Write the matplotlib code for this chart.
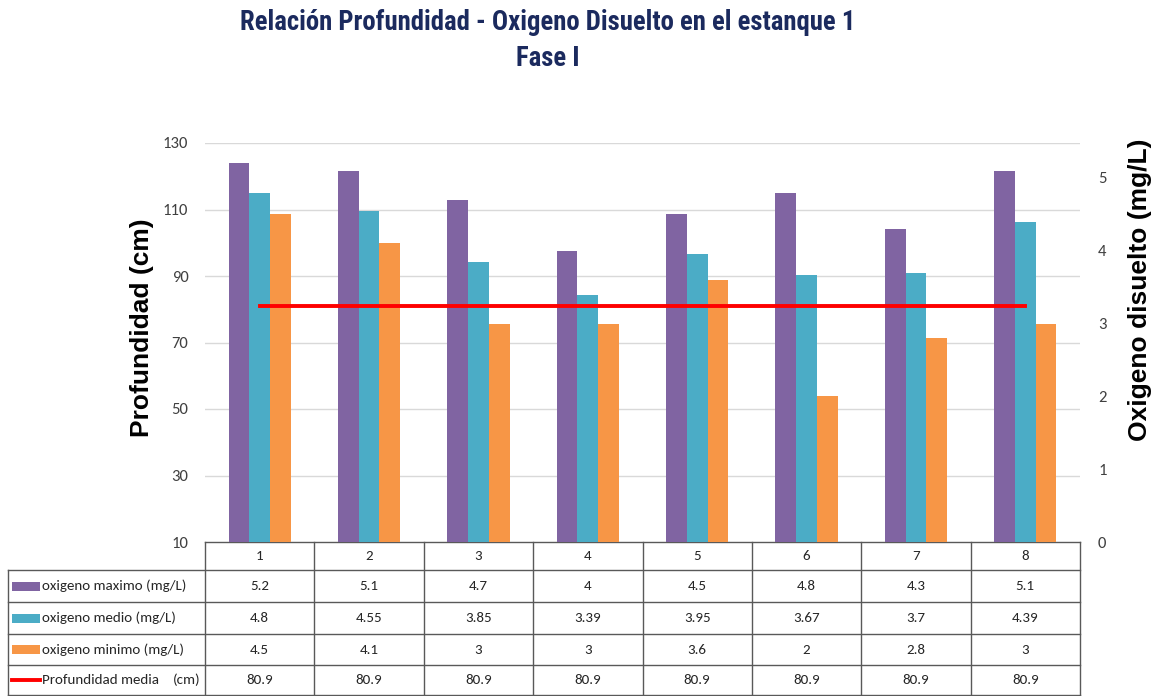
import matplotlib
matplotlib.use("Agg")
import matplotlib.pyplot as plt
from matplotlib.patches import Rectangle
from matplotlib import font_manager

# ---- data ----
categories = ["1", "2", "3", "4", "5", "6", "7", "8"]
oxigeno_maximo = [5.2, 5.1, 4.7, 4.0, 4.5, 4.8, 4.3, 5.1]
oxigeno_medio = [4.8, 4.55, 3.85, 3.39, 3.95, 3.67, 3.7, 4.39]
oxigeno_minimo = [4.5, 4.1, 3.0, 3.0, 3.6, 2.0, 2.8, 3.0]
profundidad_media = [80.9, 80.9, 80.9, 80.9, 80.9, 80.9, 80.9, 80.9]

row_labels = ["oxigeno maximo (mg/L)", "oxigeno medio (mg/L)",
              "oxigeno minimo (mg/L)", "Profundidad media"]
left_ticks = [10, 30, 50, 70, 90, 110, 130]
right_ticks = [0, 1, 2, 3, 4, 5]

# ---- fonts ----
available = {f.name for f in font_manager.fontManager.ttflist}

def pick(cands):
    found = [c for c in cands if c in available]
    return found + ["DejaVu Sans"]

BODY = pick(["Carlito", "Roboto Condensed", "Archivo Narrow", "Liberation Sans Narrow",
             "Asap Condensed", "Liberation Sans"])[:2]
TITLE = pick(["Liberation Sans Narrow", "Roboto Condensed", "Archivo Narrow",
              "Asap Condensed", "Liberation Sans"])[:2]
LABEL = pick(["Liberation Sans", "DejaVu Sans"])[:2]

# ---- colours ----
C_MAX = "#8064A2"
C_MED = "#4BACC6"
C_MIN = "#F79646"
C_RED = "#FF0000"
NAVY = "#1B2A5E"
TXT = "#262626"
W, H = 1163, 696

fig = plt.figure(figsize=(W / 100, H / 100), dpi=100)

# plot area in pixels
PX_L, PX_R, PX_T, PX_B = 205, 1080, 143, 542
ax = fig.add_axes([PX_L / W, 1 - PX_B / H, (PX_R - PX_L) / W, (PX_B - PX_T) / H])
ax2 = ax.twinx()

n = len(categories)
xs = list(range(n))
bw = 0.19

ax.set_xlim(-0.5, n - 0.5)
ax.set_ylim(10, 130)
ax.set_yticks(left_ticks)
ax.set_yticklabels([str(t) for t in left_ticks], family=BODY, fontsize=12, color="#404040")
ax.set_xticks([])
ax.tick_params(axis="y", length=0, pad=12)
for s in ax.spines.values():
    s.set_visible(False)

ax2.set_ylim(0, 5.48)
ax2.set_yticks(right_ticks)
ax2.set_yticklabels([str(t) for t in right_ticks], family=BODY, fontsize=12, color="#404040")
ax2.tick_params(axis="y", length=0, pad=13)
for s in ax2.spines.values():
    s.set_visible(False)

# horizontal gridlines follow the depth axis ticks
for t in left_ticks:
    ax2.axhline((t - 10) / 120 * 5.48, color="#D9D9D9", lw=1, zorder=0)

ax2.bar([x - bw for x in xs], oxigeno_maximo, bw, color=C_MAX, zorder=2)
ax2.bar(xs, oxigeno_medio, bw, color=C_MED, zorder=2)
ax2.bar([x + bw for x in xs], oxigeno_minimo, bw, color=C_MIN, zorder=2)

# depth line drawn above the bars
ax2.set_zorder(1)
ax.set_zorder(2)
ax.patch.set_visible(False)
ax.plot(xs, profundidad_media, color=C_RED, lw=2.8, zorder=5)

ax.set_ylabel("Profundidad (cm)", fontsize=19, fontweight="bold", family=LABEL)
ax.yaxis.set_label_coords((142 - PX_L) / (PX_R - PX_L), (PX_B - 328) / (PX_B - PX_T))
ax.yaxis.label.set_va("center")
ax2.set_ylabel("Oxigeno disuelto (mg/L)", fontsize=19, fontweight="bold", family=LABEL)
ax2.yaxis.set_label_coords((1140 - PX_L) / (PX_R - PX_L), (PX_B - 290) / (PX_B - PX_T))
ax2.yaxis.label.set_va("center")

fig.text(548 / W, 1 - 22 / H, "Relación Profundidad - Oxigeno Disuelto en el estanque 1",
         ha="center", va="center", fontsize=19.3, fontweight="bold", color=NAVY, family=TITLE)
fig.text(548 / W, 1 - 58 / H, "Fase I", ha="center", va="center",
         fontsize=19.3, fontweight="bold", color=NAVY, family=TITLE)

# ---- data table below the plot ----
TB_L, TB_B = 8, 695
unit = (PX_R - PX_L) / n
x0 = -0.5 - (PX_L - TB_L) / unit
tax = fig.add_axes([TB_L / W, 1 - TB_B / H, (PX_R - TB_L) / W, (TB_B - PX_B) / H])
tax.set_xlim(x0, n - 0.5)
tax.set_ylim(TB_B - PX_B, 0)
tax.axis("off")

def px(p):
    return x0 + (p - TB_L) / unit

FS = 10.8
rows_y = [0, 28, 60, 92, 123, 153]
lc = "#595959"
lw = 1.0
tax.plot([-0.5, n - 0.5], [rows_y[0]] * 2, color=lc, lw=lw, clip_on=False)
for y in rows_y[1:]:
    tax.plot([x0, n - 0.5], [y, y], color=lc, lw=lw, clip_on=False)
for i in range(n + 1):
    tax.plot([i - 0.5, i - 0.5], [rows_y[0], rows_y[-1]], color=lc, lw=lw, clip_on=False)
tax.plot([x0, x0], [rows_y[1], rows_y[-1]], color=lc, lw=lw, clip_on=False)

for i, c in enumerate(categories):
    tax.text(i, (rows_y[0] + rows_y[1]) / 2, c, ha="center", va="center",
             family=BODY, fontsize=FS, color=TXT)

series = [oxigeno_maximo, oxigeno_medio, oxigeno_minimo, profundidad_media]
colors = [C_MAX, C_MED, C_MIN, C_RED]
for r, (vals, lab, col) in enumerate(zip(series, row_labels, colors)):
    yc = (rows_y[r + 1] + rows_y[r + 2]) / 2
    if r < 3:
        tax.add_patch(Rectangle((px(12), yc - 4.5), px(40) - px(12), 9,
                                color=col, lw=0))
    else:
        tax.plot([px(12), px(40)], [yc, yc], color=col, lw=2.8)
    tax.text(px(42), yc, lab, ha="left", va="center", family=BODY,
             fontsize=FS, color=TXT)
    if r == 3:
        tax.text(px(201), yc, "(cm)", ha="right", va="center", family=BODY,
                 fontsize=FS, color=TXT)
    for i, v in enumerate(vals):
        tax.text(i, yc, f"{v:g}", ha="center", va="center", family=BODY,
                 fontsize=FS, color=TXT)

fig.savefig("out.png", dpi=100, facecolor="white")
